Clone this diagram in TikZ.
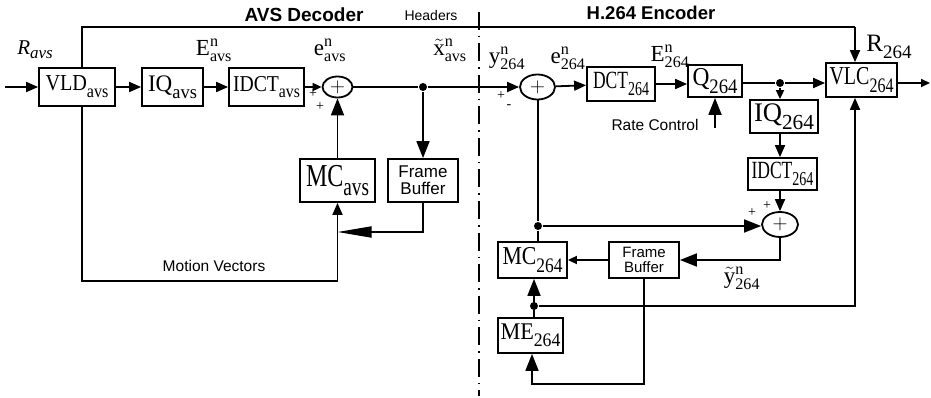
\documentclass[tikz,border=0pt]{standalone}
\usepackage{fontspec}
\setmainfont{Liberation Serif}
\setsansfont{Liberation Sans}
\usetikzlibrary{arrows.meta,shapes.geometric}
\newcommand{\sz}[1]{\fontsize{#1}{#1}\selectfont}
% block label squeezed to the width and height of the printed text
\newcommand{\blk}[4]{\resizebox*{#3pt}{#4pt}{#1\raisebox{-0.3em}{\scalebox{0.8}{#2}}}}
\newcommand{\sig}[3]{$\mathrm{#1}^{\mathrm{#2}}_{\mathrm{#3}}$}

\begin{document}
\begin{tikzpicture}[
  x=1pt,
  y=-1pt,
  line width=1.8pt,
  blk/.style={draw, rectangle, inner sep=0pt, font=\sz{24}},
  fbuf/.style={draw, rectangle, inner sep=0pt, align=center, font=\sffamily\sz{16}},
  adder/.style={draw, ellipse, inner sep=0pt, font=\sz{22}},
  tip/.style={-{Triangle[length=12pt,width=10pt]}},
  smalltip/.style={-{Triangle[length=9pt,width=8pt]}},
  bigtip/.style={-{Triangle[length=17pt,width=13pt]}},
  longtip/.style={-{Triangle[length=34pt,width=11pt]}},
  dot/.style={circle, fill, inner sep=0pt, minimum size=8pt},
  lbl/.style={font=\sz{23}},
  note/.style={font=\sffamily\sz{15.5}},
  sgn/.style={font=\sz{14}, inner sep=0pt}
]
\useasboundingbox (0,0) rectangle (931,398);

% titles and partition
\node[font=\sffamily\bfseries\sz{19}] (dectitle) at (304,15) {AVS Decoder};
\node[note, font=\sffamily\sz{14}] (hdrtxt) at (431,15) {Headers};
\node[font=\sffamily\bfseries\sz{18.5}] (enctitle) at (651,13) {H.264 Encoder};
\coordinate (divtop) at (479,12);
\coordinate (divbot) at (479,396);
\draw[line width=2pt, dash pattern=on 18pt off 6pt on 1.5pt off 6pt] (divtop) -- (divbot);

% AVS decoder
\node[blk, minimum width=76pt, minimum height=38pt] (vld) at (77,87) {\blk{VLD}{avs}{63}{22}};
\node[blk, minimum width=61pt, minimum height=38pt] (iqa) at (172.5,87) {\blk{IQ}{avs}{49}{23}};
\node[blk, minimum width=75pt, minimum height=38pt] (idcta) at (266.5,87) {\blk{IDCT}{avs}{67}{22}};
\node[adder, minimum width=30pt, minimum height=21pt] (suma) at (337.5,87) {$+$};
\node[blk, minimum width=75pt, minimum height=43pt] (mca) at (337.5,180.5) {\blk{MC}{avs}{63}{31}};
\node[fbuf, minimum width=70pt, minimum height=43pt, font=\sffamily\sz{17}] (fba) at (423,180.5) {Frame\\Buffer};
\node[dot] (dota) at (423,87) {};

\node[font=\itshape\sz{21}] (ravs) at (35,50) {R\raisebox{-4pt}{\sz{17}avs}};
\node[lbl] (Eavs) at (214,50) {\sig{E}{n}{avs}};
\node[lbl] (eavs) at (330,50) {\sig{e}{n}{avs}};
\node[lbl] (xavs) at (450,50) {$\tilde{\mathrm{x}}^{\mathrm{n}}_{\mathrm{avs}}$};
\node[sgn] (pa1) at (313,94) {+};
\node[sgn] (pa2) at (320,107) {+};

\coordinate (in) at (5,87);
\coordinate (hdrl) at (82,27);
\coordinate (hdr) at (855,27);
\coordinate (mvl) at (82,281);
\coordinate (mvb) at (337.5,281);
\coordinate (mvj) at (337.5,232);
\draw[tip] (in) -- (vld);
\draw[tip] (vld) -- (iqa);
\draw[tip] (iqa) -- (idcta);
\draw[smalltip] (idcta) -- (suma);
\draw[bigtip] (mca) -- (suma);
\draw[bigtip] (dota) -- (fba);
\draw (hdrl |- vld.north) -- (hdrl) -- (hdr);
\draw[longtip] (fba.south) |- (mvj);
\draw[tip] (mvl |- vld.south) -- (mvl) -- (mvb) -- (mca.south);
\node[note] (mvtxt) at (214,266) {Motion Vectors};

% H.264 encoder
\node[adder, minimum width=35pt, minimum height=25pt] (sume) at (537.5,87) {$+$};
\node[blk, minimum width=68pt, minimum height=34pt] (dct) at (621,84) {\blk{DCT}{264}{56}{24}};
\node[blk, minimum width=54pt, minimum height=32pt] (q) at (715,81) {\blk{Q}{264}{45}{25}};
\node[blk, minimum width=71pt, minimum height=34pt] (vlc) at (861.5,80) {\blk{VLC}{264}{64}{25}};
\node[blk, minimum width=68pt, minimum height=33pt] (iqe) at (784,116.5) {\blk{IQ}{264}{60}{26}};
\node[blk, minimum width=69pt, minimum height=32pt] (idcte) at (782.5,174) {\blk{IDCT}{264}{62}{24}};
\node[adder, minimum width=36pt, minimum height=25pt] (sumb) at (780,224.5) {$+$};
\node[blk, minimum width=69pt, minimum height=36pt] (mce) at (532.5,260) {\blk{MC}{264}{60}{25}};
\node[fbuf, minimum width=70pt, minimum height=36pt, font=\sffamily\sz{15}] (fbe) at (644,260) {Frame\\Buffer};
\node[blk, minimum width=65pt, minimum height=35pt] (mee) at (530.5,335.5) {\blk{ME}{264}{60}{23}};
\node[dot] (dotq) at (780,83) {};
\node[dot] (dotm) at (538,226) {};
\node[dot] (dotme) at (534,306) {};

\node[lbl] (y264) at (507,58) {\sig{y}{n}{264}};
\node[lbl] (e264) at (568,58) {\sig{e}{n}{264}};
\node[lbl] (E264) at (670,56) {\sig{E}{n}{264}};
\node[font=\sz{25}] (r264) at (889,47) {R\raisebox{-7pt}{\sz{19}264}};
\node[lbl] (ytil) at (742,278) {$\tilde{\mathrm{y}}^{\mathrm{n}}_{\mathrm{264}}$};
\node[note] (rctxt) at (655,125) {Rate Control};
\node[sgn] (pe1) at (501,96) {+};
\node[sgn] (pe2) at (509,107) {-};
\node[sgn] (pb1) at (752,213) {+};
\node[sgn] (pb2) at (767,206) {+};

\coordinate (out) at (930,83);
\coordinate (rc) at (715,128);
\coordinate (vlcb) at (855,306);
\coordinate (meb) at (532,384);

\draw[tip] (suma) -- (dota) -- (sume);
\draw[tip] (sume) -- (dct);
\draw[tip] (dct) -- (dct -| q.west);
\draw[tip] (q.east |- dotq) -- (dotq) -- (dotq -| vlc.west);
\draw[smalltip] (dotq) -- (dotq |- iqe.north);
\draw[tip] (iqe.south -| dotq) -- (idcte.north -| dotq);
\draw[tip] (idcte.south -| sumb) -- (sumb.north);
\draw[smalltip] (vlc.east |- out) -- (out);
\draw[tip] (hdr) -- (hdr |- vlc.north);
\draw[bigtip] (rc) -- (q.south);

\draw (sume.south -| dotm) -- (dotm) -- (dotm |- mce.north);
\draw[bigtip] (dotm) -- (dotm -| sumb.west);
\draw[bigtip] (sumb.south) |- (fbe.east);
\draw[smalltip] (fbe) -- (mce);
\draw[tip] (dotme) -- (vlcb) -- (vlcb |- vlc.south);
\draw[bigtip] (dotme |- mee.north) -- (dotme |- mce.south);
\draw[bigtip] (fbe.south) |- (meb) -- (meb |- mee.south);
\end{tikzpicture}
\end{document}
